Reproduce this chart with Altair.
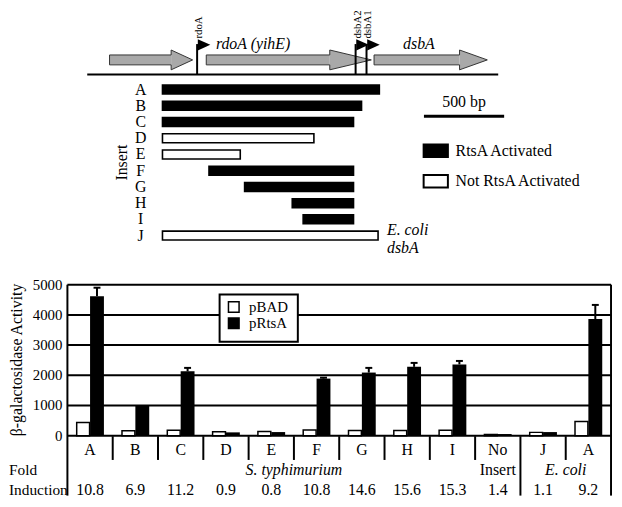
import altair as alt
import pandas as pd

FONT = "Liberation Serif"

# ---------------- gene map (positions in bp, 0 = left end of the inserts) ----------------
gene_names = ["upstream", "rdoA (yihE)", "dsbA"]
gene_start_bp = [-330, 273, 1319]
gene_headbase_bp = [54, 1043, 1852]
gene_tip_bp = [188, 1302, 2025]
gene_label_text = ["rdoA (yihE)", "dsbA"]
gene_label_bp = [333, 1500]

promoter_names = ["rdoA", "dsbA2", "dsbA1"]
promoter_bp = [216, 1204, 1272]

map_extent_bp = [-469, 2093]

insert_names = ["A", "B", "C", "D", "E", "F", "G", "H", "I", "J"]
insert_start_bp = [0, 0, 0, 0, 0, 290, 512, 809, 877, 0]
insert_end_bp = [1352, 1241, 1191, 944, 485, 1191, 1191, 1191, 1191, 1344]
insert_activated = [True, True, True, False, False, True, True, True, True, False]

scale_bar_bp = [1630, 2130]
map_legend = ["RtsA Activated", "Not RtsA Activated"]
ecoli_lines = ["E. coli", "dsbA"]

# ---------------- beta-galactosidase bar chart ----------------
group_keys = ["A", "B", "C", "D", "E", "F", "G", "H", "I", "No Insert", "J", "A (E. coli)"]
group_labels = ["A", "B", "C", "D", "E", "F", "G", "H", "I", "No", "J", "A"]
pBAD = [436, 164, 184, 131, 141, 190, 170, 170, 180, 40, 110, 466]
pRtsA = [4620, 990, 2130, 110, 120, 1890, 2090, 2280, 2360, 55, 120, 3860]
pRtsA_err = [280, 0, 115, 0, 0, 30, 155, 130, 115, 0, 0, 470]
fold_induction = ["10.8", "6.9", "11.2", "0.9", "0.8", "10.8", "14.6", "15.6", "15.3", "1.4", "1.1", "9.2"]
y_ticks = [0, 1000, 2000, 3000, 4000, 5000]
series = ["pBAD", "pRtsA"]


# ---------------- scales ----------------
def bp_scale():
    return alt.Scale(domain=[0, 500], range=[156, 237], nice=False, zero=False)


def rel_scale():
    return alt.Scale(domain=[-1, 1], range=[60, 40], nice=False, zero=False)


def ins_scale():
    return alt.Scale(type="band", domain=insert_names, range=[71.8, 235.6],
                     paddingInner=0, paddingOuter=0)


def grp_scale():
    return alt.Scale(type="band", domain=group_keys, range=[60, 609],
                     paddingInner=0, paddingOuter=0)


def act_scale():
    return alt.Scale(domain=[0, 5000], range=[429.5, 277], nice=False, zero=False)


def pt_scale(domain, rng):
    return alt.Scale(type="point", domain=domain, range=rng, padding=0)


one = pd.DataFrame({"k": [0]})

# ---------------- data frames ----------------
body_df = pd.DataFrame({"gene": gene_names, "s": gene_start_bp, "hb": gene_headbase_bp,
                        "top": [0.5] * 3, "bot": [-0.5] * 3})
head_rows, outline_rows = [], []
for g, s, hb, t in zip(gene_names, gene_start_bp, gene_headbase_bp, gene_tip_bp):
    head_rows += [{"gene": g, "bp": hb, "top": 1.0, "bot": -1.0},
                  {"gene": g, "bp": t, "top": 0.0, "bot": 0.0}]
    pts = [(s, 0.5), (hb, 0.5), (hb, 1.0), (t, 0.0), (hb, -1.0), (hb, -0.5), (s, -0.5), (s, 0.5)]
    outline_rows += [{"gene": g, "k": i, "bp": x, "y": y} for i, (x, y) in enumerate(pts)]
head_df = pd.DataFrame(head_rows)
outline_df = pd.DataFrame(outline_rows)

prom_df = pd.DataFrame({"name": promoter_names, "bp": promoter_bp})
glab_df = pd.DataFrame({"name": gene_label_text, "bp": gene_label_bp})
ins_df = pd.DataFrame({
    "name": insert_names, "start": insert_start_bp, "end": insert_end_bp,
    "fill": ["black" if a else "white" for a in insert_activated],
})
ext_df = pd.DataFrame({"a": [map_extent_bp[0]], "b": [map_extent_bp[1]]})
sb_df = pd.DataFrame({"a": [scale_bar_bp[0]], "b": [scale_bar_bp[1]],
                      "mid": [(scale_bar_bp[0] + scale_bar_bp[1]) / 2], "t": ["500 bp"]})
mleg_df = pd.DataFrame({"name": map_legend, "fill": ["black", "white"]})
ecoli_df = pd.DataFrame({"t": ecoli_lines, "bp": [insert_end_bp[-1]] * 2})

bars_df = pd.DataFrame({"g": group_keys, "label": group_labels, "pBAD": pBAD, "pRtsA": pRtsA,
                        "err": [v + e for v, e in zip(pRtsA, pRtsA_err)], "e": pRtsA_err,
                        "fold": fold_induction})
err_df = bars_df[bars_df["e"] > 0]
ticks_df = pd.DataFrame({"v": y_ticks, "t": [str(v) for v in y_ticks]})
short_sep_df = pd.DataFrame({"g": [k for k in group_keys[1:] if k != "J"]})
long_sep_df = pd.DataFrame({"g": ["J"]})
bleg_df = pd.DataFrame({"name": series, "fill": ["white", "black"]})

GRAY = "#a9a9a9"

# ---------------- gene map layers ----------------
baseline = alt.Chart(ext_df).mark_rule(color="black", strokeWidth=2).encode(
    x=alt.X("a:Q", scale=bp_scale(), axis=None), x2="b:Q", y=alt.value(64.7))

bodies = alt.Chart(body_df).mark_rect(fill=GRAY).encode(
    x=alt.X("s:Q", scale=bp_scale(), axis=None), x2="hb:Q",
    y=alt.Y("top:Q", scale=rel_scale(), axis=None), y2="bot:Q")

heads = alt.Chart(head_df).mark_area(orient="vertical", fill=GRAY, opacity=1).encode(
    x=alt.X("bp:Q", scale=bp_scale(), axis=None),
    y=alt.Y("top:Q", scale=rel_scale(), axis=None), y2="bot:Q",
    detail="gene:N")

outlines = alt.Chart(outline_df).mark_line(color="#333333", strokeWidth=1).encode(
    x=alt.X("bp:Q", scale=bp_scale(), axis=None),
    y=alt.Y("y:Q", scale=rel_scale(), axis=None),
    detail="gene:N", order="k:Q")

prom_lines = alt.Chart(prom_df).mark_rule(color="black", strokeWidth=2).encode(
    x=alt.X("bp:Q", scale=bp_scale(), axis=None), y=alt.value(64.7), y2=alt.value(34))

flags = alt.Chart(prom_df).mark_point(shape="M-1,-0.9L1,0L-1,0.9Z", size=160, filled=True,
                                      color="black", opacity=1, xOffset=7).encode(
    x=alt.X("bp:Q", scale=bp_scale(), axis=None), y=alt.value(34.8))

prom_labels = alt.Chart(prom_df).mark_text(angle=270, align="left", baseline="middle",
                                           font=FONT, fontSize=11, color="black", xOffset=2).encode(
    x=alt.X("bp:Q", scale=bp_scale(), axis=None), y=alt.value(28.5), text="name:N")

gene_labels = alt.Chart(glab_df).mark_text(align="left", baseline="middle", font=FONT, fontSize=16,
                                           fontStyle="italic", color="black").encode(
    x=alt.X("bp:Q", scale=bp_scale(), axis=None), y=alt.value(33.5), text="name:N")

ins_bars = alt.Chart(ins_df).mark_bar(height=9, stroke="black", strokeWidth=1.6).encode(
    x=alt.X("start:Q", scale=bp_scale(), axis=None), x2="end:Q",
    y=alt.Y("name:N", scale=ins_scale(), axis=None),
    fill=alt.Fill("fill:N", scale=None))

ins_letters = alt.Chart(ins_df).mark_text(font=FONT, fontSize=16, baseline="middle", color="black").encode(
    x=alt.value(134), y=alt.Y("name:N", scale=ins_scale(), axis=None, bandPosition=0.5), text="name:N")

insert_title = alt.Chart(pd.DataFrame({"name": ["F"], "t": ["Insert"]})).mark_text(
    angle=270, font=FONT, fontSize=16, baseline="middle", color="black").encode(
    x=alt.value(115), y=alt.Y("name:N", scale=ins_scale(), axis=None, bandPosition=0), text="t:N")

ecoli_text = alt.Chart(ecoli_df).mark_text(align="left", baseline="middle", font=FONT, fontSize=16,
                                           fontStyle="italic", color="black", xOffset=9).encode(
    x=alt.X("bp:Q", scale=bp_scale(), axis=None),
    y=alt.Y("t:N", scale=pt_scale(ecoli_lines, [222, 240]), axis=None),
    text="t:N")

scale_bar = alt.Chart(sb_df).mark_rule(color="black", strokeWidth=3).encode(
    x=alt.X("a:Q", scale=bp_scale(), axis=None), x2="b:Q", y=alt.value(107))

scale_text = alt.Chart(sb_df).mark_text(font=FONT, fontSize=16, baseline="middle", color="black").encode(
    x=alt.X("mid:Q", scale=bp_scale(), axis=None), y=alt.value(93), text="t:N")

mleg_sym = alt.Chart(mleg_df).mark_point(shape="M-1,-0.52H1V0.52H-1Z", size=600, filled=True,
                                         stroke="black", strokeWidth=2, opacity=1).encode(
    x=alt.value(432), y=alt.Y("name:N", scale=pt_scale(map_legend, [141.7, 172.5]), axis=None),
    fill=alt.Fill("fill:N", scale=None))
mleg_txt = alt.Chart(mleg_df).mark_text(align="left", baseline="middle", font=FONT, fontSize=16,
                                        color="black").encode(
    x=alt.value(452), y=alt.Y("name:N", scale=pt_scale(map_legend, [141.7, 172.5]), axis=None),
    text="name:N")

# ---------------- bar chart layers ----------------
grid = alt.Chart(ticks_df).mark_rule(color="black", strokeWidth=2).encode(
    y=alt.Y("v:Q", scale=act_scale(), axis=None), x=alt.value(60), x2=alt.value(609))
left_edge = alt.Chart(one).mark_rule(color="black", strokeWidth=2).encode(
    x=alt.value(60), y=alt.value(277), y2=alt.value(490))
right_edge = alt.Chart(one).mark_rule(color="black", strokeWidth=2).encode(
    x=alt.value(609), y=alt.value(277), y2=alt.value(490))
short_sep = alt.Chart(short_sep_df).mark_rule(color="black", strokeWidth=2).encode(
    x=alt.X("g:N", scale=grp_scale(), axis=None, bandPosition=0), y=alt.value(430), y2=alt.value(454))
long_sep = alt.Chart(long_sep_df).mark_rule(color="black", strokeWidth=2).encode(
    x=alt.X("g:N", scale=grp_scale(), axis=None, bandPosition=0), y=alt.value(430), y2=alt.value(490))

white_bars = alt.Chart(bars_df).mark_bar(width=13, xOffset=-7, fill="white", stroke="black",
                                         strokeWidth=1.5).encode(
    x=alt.X("g:N", scale=grp_scale(), axis=None), y=alt.Y("pBAD:Q", scale=act_scale(), axis=None),
    y2=alt.datum(0))
black_bars = alt.Chart(bars_df).mark_bar(width=14, xOffset=7, fill="black").encode(
    x=alt.X("g:N", scale=grp_scale(), axis=None), y=alt.Y("pRtsA:Q", scale=act_scale(), axis=None),
    y2=alt.datum(0))
err_lines = alt.Chart(err_df).mark_rule(color="black", strokeWidth=2, xOffset=7).encode(
    x=alt.X("g:N", scale=grp_scale(), axis=None, bandPosition=0.5),
    y=alt.Y("pRtsA:Q", scale=act_scale(), axis=None), y2="err:Q")
err_caps = alt.Chart(err_df).mark_tick(orient="horizontal", size=7, thickness=2, color="black",
                                       opacity=1, xOffset=7).encode(
    x=alt.X("g:N", scale=grp_scale(), axis=None, bandPosition=0.5),
    y=alt.Y("err:Q", scale=act_scale(), axis=None))

bleg_box = alt.Chart(one).mark_rect(fill="white", stroke="black", strokeWidth=2).encode(
    x=alt.value(213.7), x2=alt.value(292.7), y=alt.value(287), y2=alt.value(334.7))
bleg_sym = alt.Chart(bleg_df).mark_point(shape="square", size=115, filled=True, stroke="black",
                                         strokeWidth=1.5, opacity=1).encode(
    x=alt.value(228), y=alt.Y("name:N", scale=pt_scale(series, [299.5, 316]), axis=None),
    fill=alt.Fill("fill:N", scale=None))
bleg_txt = alt.Chart(bleg_df).mark_text(align="left", baseline="middle", font=FONT, fontSize=15,
                                        color="black").encode(
    x=alt.value(243.5), y=alt.Y("name:N", scale=pt_scale(series, [299.5, 316]), axis=None),
    text="name:N")

tick_labels = alt.Chart(ticks_df).mark_text(align="right", baseline="middle", font=FONT, fontSize=15,
                                            color="black").encode(
    x=alt.value(55), y=alt.Y("v:Q", scale=act_scale(), axis=None), text="t:N")
y_title = alt.Chart(pd.DataFrame({"t": ["β-galactosidase Activity"]})).mark_text(
    angle=270, baseline="middle", font=FONT, fontSize=16, color="black").encode(
    x=alt.value(9), y=alt.value(353), text="t:N")

cat_labels = alt.Chart(bars_df).mark_text(baseline="middle", font=FONT, fontSize=16, color="black").encode(
    x=alt.X("g:N", scale=grp_scale(), axis=None, bandPosition=0.5), y=alt.value(444), text="label:N")
fold_labels = alt.Chart(bars_df).mark_text(baseline="middle", font=FONT, fontSize=16, color="black").encode(
    x=alt.X("g:N", scale=grp_scale(), axis=None, bandPosition=0.5), y=alt.value(484), text="fold:N")
species = alt.Chart(pd.DataFrame({"g": ["F", "A (E. coli)"], "t": ["S. typhimurium", "E. coli"]})).mark_text(
    baseline="middle", font=FONT, fontSize=16, fontStyle="italic", color="black").encode(
    x=alt.X("g:N", scale=grp_scale(), axis=None, bandPosition=0), y=alt.value(464.5), text="t:N")
insert_word = alt.Chart(pd.DataFrame({"g": ["No Insert"], "t": ["Insert"]})).mark_text(
    baseline="middle", font=FONT, fontSize=16, color="black").encode(
    x=alt.X("g:N", scale=grp_scale(), axis=None, bandPosition=0.5), y=alt.value(464.5), text="t:N")
row_titles = alt.Chart(pd.DataFrame({"t": ["Fold", "Induction"]})).mark_text(
    align="left", baseline="middle", font=FONT, fontSize=15.5, color="black").encode(
    x=alt.value(1), y=alt.Y("t:N", scale=pt_scale(["Fold", "Induction"], [464.5, 484]), axis=None),
    text="t:N")

chart = alt.layer(
    baseline, bodies, heads, outlines, prom_lines, flags, prom_labels, gene_labels,
    ins_bars, ins_letters, insert_title, ecoli_text, scale_bar, scale_text, mleg_sym, mleg_txt,
    grid, left_edge, right_edge, short_sep, long_sep,
    white_bars, black_bars, err_lines, err_caps,
    bleg_box, bleg_sym, bleg_txt,
    tick_labels, y_title, cat_labels, fold_labels, species, insert_word, row_titles,
).resolve_scale(x="independent", y="independent").properties(
    width=612, height=490, padding=0, autosize=alt.AutoSizeParams(type="none"),
    background="white",
).configure_view(stroke=None)

chart.save("out.html", embed_options={"renderer": "svg", "actions": False})
